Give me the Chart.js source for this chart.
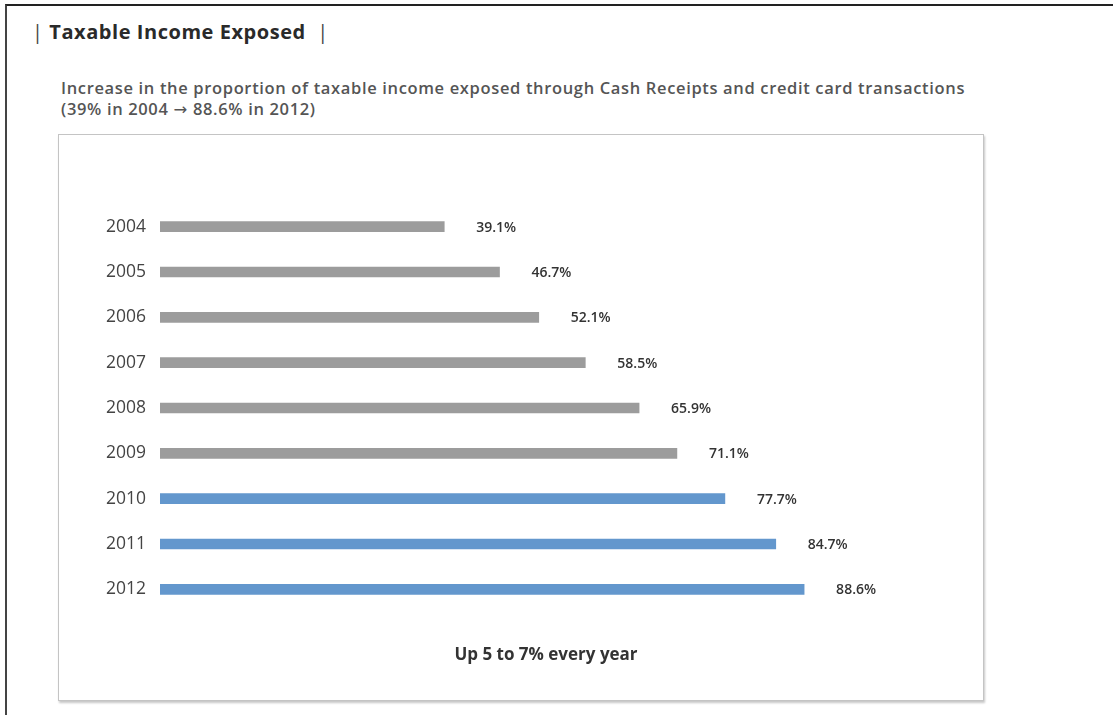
<!DOCTYPE html>
<html>
<head>
<meta charset="utf-8">
<script src="https://cdn.jsdelivr.net/npm/chart.js@4"></script>
<style>
  body { margin: 0; background: #fff; font-family: "Open Sans", "Noto Sans", sans-serif; }
  #frame {
    position: absolute; left: 5px; top: 4px; width: 1106px; height: 720px;
    border-top: 2px solid #222; border-left: 2px solid #444; border-right: 1px solid #999;
  }
  #title {
    position: absolute; left: 32px; top: 18px; font-size: 20px; font-weight: 700; color: #2a2a2a;
    letter-spacing: 0.55px;
  }
  #title .bar { font-weight: 400; color: #444; }
  #subtitle {
    position: absolute; left: 61px; top: 77px; font-size: 16.5px; line-height: 21px; color: #555;
    font-weight: 600; letter-spacing: 0.65px;
  }
  #subtitle .arr { font-family: "DejaVu Sans", sans-serif; font-weight: 400; }
  #box {
    position: absolute; left: 58px; top: 134px; width: 924px; height: 565px;
    border: 1px solid #c4c4c4; box-shadow: 1px 2px 2px rgba(0,0,0,0.22);
    background: #fff;
  }
  #box canvas { position: absolute; left: 0; top: 0; }
  #foot {
    position: absolute; left: 446px; width: 200px; top: 642px; text-align: center;
    font-size: 17px; font-weight: 700; color: #333;
  }
</style>
</head>
<body>
<div id="frame"></div>
<div id="title"><span class="bar">|</span> Taxable Income Exposed &nbsp;<span class="bar">|</span></div>
<div id="subtitle">Increase in the proportion of taxable income exposed through Cash Receipts and credit card transactions<br>(39% in 2004 <span class="arr">&#8594;</span> 88.6% in 2012)</div>
<div id="box"><canvas id="myChart" width="924" height="565"></canvas></div>
<div id="foot">Up 5 to 7% every year</div>

<script>
  var years = ['2004', '2005', '2006', '2007', '2008', '2009', '2010', '2011', '2012'];
  var shares = [39.1, 46.7, 52.1, 58.5, 65.9, 71.1, 77.7, 84.7, 88.6];
  var shareLabels = ['39.1%', '46.7%', '52.1%', '58.5%', '65.9%', '71.1%', '77.7%', '84.7%', '88.6%'];

  var grey = '#9c9c9c';
  var blue = '#6397cd';
  var barColors = years.map(function (y) { return Number(y) >= 2010 ? blue : grey; });

  // value labels to the right of each bar
  var valueLabels = {
    id: 'valueLabels',
    afterDatasetsDraw: function (chart) {
      var c = chart.ctx;
      var meta = chart.getDatasetMeta(0);
      c.save();
      c.font = '600 14px "Open Sans", sans-serif';
      c.fillStyle = '#333';
      c.textBaseline = 'middle';
      meta.data.forEach(function (bar, i) {
        c.fillText(shareLabels[i], bar.x + 32, bar.y + 1);
      });
      c.restore();
    }
  };

  var ctx = document.getElementById('myChart');
  new Chart(ctx, {
    type: 'bar',
    data: {
      labels: years,
      datasets: [{
        data: shares,
        backgroundColor: barColors,
        barThickness: 10,
        borderSkipped: false
      }]
    },
    options: {
      indexAxis: 'y',
      responsive: false,
      animation: false,
      layout: { padding: { top: 69, right: 96, bottom: 88, left: 0 } },
      scales: {
        x: { min: 0, max: 100, display: false },
        y: {
          grid: { display: false, drawTicks: false },
          border: { display: false },
          ticks: { color: '#444', padding: 14, font: { size: 17.5, family: '"Open Sans", sans-serif' } },
          afterFit: function (scale) { scale.width = 101; }
        }
      },
      plugins: {
        legend: { display: false },
        tooltip: { enabled: false }
      }
    },
    plugins: [valueLabels]
  });
</script>
</body>
</html>
